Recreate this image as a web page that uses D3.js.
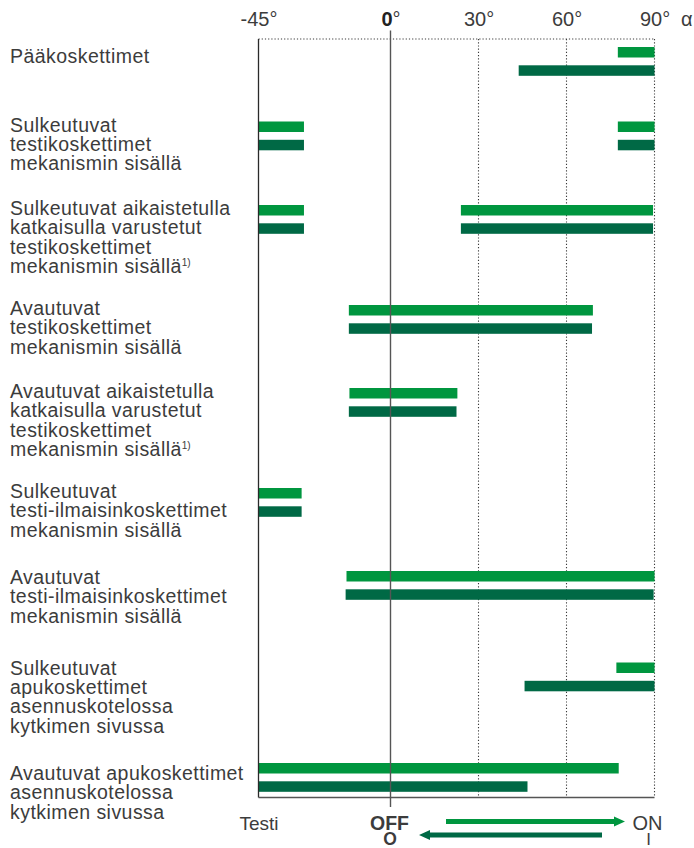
<!DOCTYPE html>
<html>
<head>
<meta charset="utf-8">
<script src="https://cdn.jsdelivr.net/npm/d3@7"></script>
<style>
  html, body { margin: 0; padding: 0; background: #fff; }
  svg { display: block; }
  text { font-family: "Liberation Sans", Arial, Helvetica, sans-serif; fill: #3c3c3c; }
</style>
</head>
<body>
<svg id="chart" width="694" height="848"></svg>
<script>
// Contact groups (label lines; a trailing "¹⁾" marks footnote 1)
const categories = [
  ["Pääkoskettimet"],
  ["Sulkeutuvat", "testikoskettimet", "mekanismin sisällä"],
  ["Sulkeutuvat aikaistetulla", "katkaisulla varustetut", "testikoskettimet", "mekanismin sisällä¹⁾"],
  ["Avautuvat", "testikoskettimet", "mekanismin sisällä"],
  ["Avautuvat aikaistetulla", "katkaisulla varustetut", "testikoskettimet", "mekanismin sisällä¹⁾"],
  ["Sulkeutuvat", "testi-ilmaisinkoskettimet", "mekanismin sisällä"],
  ["Avautuvat", "testi-ilmaisinkoskettimet", "mekanismin sisällä"],
  ["Sulkeutuvat", "apukoskettimet", "asennuskotelossa", "kytkimen sivussa"],
  ["Avautuvat apukoskettimet", "asennuskotelossa", "kytkimen sivussa"]
];

// Handle angle ranges (degrees) where the contact is closed,
// turning OFF → ON (light green) and ON → OFF (dark green)
const closingRanges = [
  [[77.5, 90]],
  [[-45, -29.5], [77.5, 90]],
  [[-45, -29.5], [24, 89.5]],
  [[-14.2, 69]],
  [[-14, 22.8]],
  [[-45, -30.3]],
  [[-15, 90]],
  [[77, 90]],
  [[-45, 77.8]]
];
const openingRanges = [
  [[43.7, 90]],
  [[-45, -29.5], [77.5, 90]],
  [[-45, -29.5], [24, 89.5]],
  [[-14.2, 68.7]],
  [[-14.2, 22.5]],
  [[-45, -30.3]],
  [[-15.3, 89.7]],
  [[45.7, 90]],
  [[-45, 46.7]]
];

// Angle axis ticks
const tickValues = [-45, 0, 30, 60, 90];
const dottedTicks = [30, 60, 90];

// Vertical layout of the rows (top of the first bar, first label baseline)
const rowBarTop = [47, 121.5, 205, 305, 388, 488, 571, 662.5, 763];
const rowLabelBaseline = [63, 131.5, 215, 315, 398, 498, 584, 674.5, 780];

const LIGHT = "#00963f";
const DARK = "#006945";
const GRID = "#3a3a3a";

const svg = d3.select("#chart");

const x = d3.scaleLinear().domain([-45, 90]).range([258.5, 654.5]);
const frameTop = 39, frameBottom = 797.5;
const barH = 10.5, barGap = 18.3;
const lineH = 19.4;

// Dotted top line and dotted angle gridlines
svg.append("line")
  .attr("x1", x(-45)).attr("x2", x(90))
  .attr("y1", frameTop).attr("y2", frameTop)
  .attr("stroke", GRID).attr("stroke-width", 1.1)
  .attr("stroke-dasharray", "1.2,2");

svg.selectAll("line.vgrid")
  .data(dottedTicks)
  .join("line")
  .attr("class", "vgrid")
  .attr("x1", d => x(d)).attr("x2", d => x(d))
  .attr("y1", frameTop).attr("y2", frameBottom)
  .attr("stroke", GRID).attr("stroke-width", 1.1)
  .attr("stroke-dasharray", "1.2,2");

// Bars
const rows = categories.map((c, i) => ({ i, closing: closingRanges[i], opening: openingRanges[i] }));

const g = svg.append("g");
rows.forEach(r => {
  g.selectAll(null)
    .data(r.closing)
    .join("rect")
    .attr("x", d => x(d[0]))
    .attr("width", d => x(d[1]) - x(d[0]))
    .attr("y", rowBarTop[r.i])
    .attr("height", barH)
    .attr("fill", LIGHT);
  g.selectAll(null)
    .data(r.opening)
    .join("rect")
    .attr("x", d => x(d[0]))
    .attr("width", d => x(d[1]) - x(d[0]))
    .attr("y", rowBarTop[r.i] + barGap)
    .attr("height", barH)
    .attr("fill", DARK);
});

// Solid frame lines drawn over the bars
svg.append("line")
  .attr("x1", x(-45)).attr("x2", x(-45))
  .attr("y1", frameTop).attr("y2", frameBottom)
  .attr("stroke", "#2a2a2a").attr("stroke-width", 1.3);
svg.append("line")
  .attr("x1", x(-45)).attr("x2", x(90))
  .attr("y1", frameBottom).attr("y2", frameBottom)
  .attr("stroke", "#555").attr("stroke-width", 1.3);
// OFF position line
svg.append("line")
  .attr("x1", x(0)).attr("x2", x(0))
  .attr("y1", 30.5).attr("y2", 807)
  .attr("stroke", "#555").attr("stroke-width", 1.4);

// Top axis labels: number plus a light degree sign (0 in bold)
const axisTop = d3.axisTop(x).tickValues(tickValues).tickSize(0).tickPadding(0)
  .tickFormat(() => "");
const axG = svg.append("g").attr("transform", "translate(0,26)").call(axisTop);
axG.select(".domain").remove();
axG.selectAll(".tick text")
  .attr("font-size", 20)
  .attr("font-family", "'Liberation Sans', Arial, sans-serif")
  .attr("fill", "#3c3c3c")
  .attr("dy", 0)
  .each(function(d) {
    const t = d3.select(this);
    t.append("tspan")
      .attr("font-weight", d === 0 ? "bold" : "normal")
      .attr("fill", d === 0 ? "#222" : "#3c3c3c")
      .text(d);
    t.append("tspan").attr("font-weight", "normal").text("°");
  });
svg.append("text")
  .attr("x", 681).attr("y", 26)
  .attr("font-size", 20)
  .text("α");

// Row labels
const labels = svg.append("g");
categories.forEach((lines, i) => {
  const t = labels.append("text")
    .attr("x", 10)
    .attr("y", rowLabelBaseline[i])
    .attr("font-size", 19.5)
    .attr("letter-spacing", 0.45);
  lines.forEach((line, k) => {
    const foot = line.endsWith("¹⁾");
    const txt = foot ? line.slice(0, -2) : line;
    t.append("tspan")
      .attr("x", 10)
      .attr("y", rowLabelBaseline[i] + k * lineH)
      .text(txt);
    if (foot) {
      t.append("tspan")
        .attr("font-size", 10)
        .attr("letter-spacing", 0)
        .attr("dy", -7)
        .text("1)");
    }
  });
});

// Bottom: positions and direction arrows
svg.append("text").attr("x", x(-45) + 0.5).attr("y", 829.5)
  .attr("text-anchor", "middle").attr("font-size", 19).text("Testi");
svg.append("text").attr("x", x(0) - 1).attr("y", 829.5)
  .attr("text-anchor", "middle").attr("font-size", 19.5).attr("font-weight", "bold")
  .attr("fill", "#222").text("OFF");
svg.append("text").attr("x", x(0) - 0.5).attr("y", 844.5)
  .attr("text-anchor", "middle").attr("font-size", 17.5).attr("font-weight", "bold")
  .attr("fill", "#222").text("O");
svg.append("text").attr("x", x(90) - 7).attr("y", 829.5)
  .attr("text-anchor", "middle").attr("font-size", 20).text("ON");
svg.append("text").attr("x", x(90) - 6).attr("y", 844.5)
  .attr("text-anchor", "middle").attr("font-size", 17).text("I");

function arrow(x0, x1, y, color) {
  const dir = Math.sign(x1 - x0);
  const headLen = 11, headHalf = 5, shaft = 2.6;
  const xs = x1 - dir * headLen;
  const p = d3.path();
  p.moveTo(x0, y - shaft);
  p.lineTo(xs, y - shaft);
  p.lineTo(xs, y - headHalf);
  p.lineTo(x1, y);
  p.lineTo(xs, y + headHalf);
  p.lineTo(xs, y + shaft);
  p.lineTo(x0, y + shaft);
  p.closePath();
  svg.append("path").attr("d", p.toString()).attr("fill", color);
}
arrow(446, 625, 821.5, LIGHT);
arrow(602, 419, 835, DARK);
</script>
</body>
</html>
